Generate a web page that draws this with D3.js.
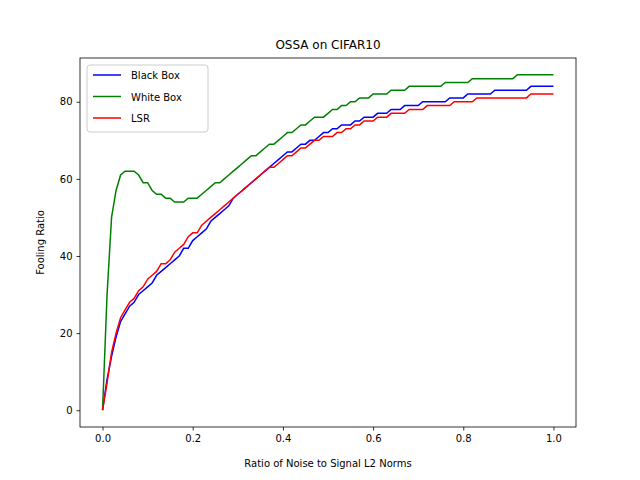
<!DOCTYPE html>
<html>
<head>
<meta charset="utf-8">
<script src="https://cdn.jsdelivr.net/npm/d3@7"></script>
<style>
body { margin: 0; background: #fff; }
text { font-family: "DejaVu Sans", sans-serif; }
</style>
</head>
<body>
<svg id="chart" width="640" height="480"></svg>
<script>
// noise ratio steps 0.00 .. 1.00 by 0.01
var ratios = d3.range(101).map(function(i) { return i / 100; });

var blackBox = [0,8,14,19,23,25,27,28,30,31,32,33,35,36,37,38,39,40,42,42,
  44,45,46,47,49,50,51,52,53,55,56,57,58,59,60,61,62,63,64,65,
  66,67,67,68,69,69,70,70,71,72,72,73,73,74,74,74,75,75,76,76,
  76,77,77,77,78,78,78,79,79,79,79,80,80,80,80,80,80,81,81,81,
  81,82,82,82,82,82,82,83,83,83,83,83,83,83,83,84,84,84,84,84,84];

var whiteBox = [0,30,50,57,61,62,62,62,61,59,59,57,56,56,55,55,54,54,54,55,
  55,55,56,57,58,59,59,60,61,62,63,64,65,66,66,67,68,69,69,70,
  71,72,72,73,74,74,75,76,76,76,77,78,78,79,79,80,80,81,81,81,
  82,82,82,82,83,83,83,83,84,84,84,84,84,84,84,84,85,85,85,85,
  85,85,86,86,86,86,86,86,86,86,86,86,87,87,87,87,87,87,87,87,87];

var lsr = [0,7,15,20,24,26,28,29,31,32,34,35,36,38,38,39,41,42,43,45,
  46,46,48,49,50,51,52,53,54,55,56,57,58,59,60,61,62,63,63,64,
  65,66,66,67,68,68,69,70,70,71,71,71,72,72,73,73,74,74,75,75,
  75,76,76,76,77,77,77,77,78,78,78,78,79,79,79,79,79,79,80,80,
  80,80,80,81,81,81,81,81,81,81,81,81,81,81,81,82,82,82,82,82,82];

var seriesNames = ["Black Box", "White Box", "LSR"];
var seriesColors = ["#0000ff", "#008000", "#ff0000"];
var seriesValues = [blackBox, whiteBox, lsr];

var xTicks = [0, 0.2, 0.4, 0.6, 0.8, 1.0];
var yTicks = [0, 20, 40, 60, 80];

var svg = d3.select("#chart");
var pLeft = 80, pRight = 576, pTop = 58, pBottom = 427;

var x = d3.scaleLinear().domain([-0.05, 1.05]).range([pLeft, pRight]);
var y = d3.scaleLinear().domain([-4.35, 91.35]).range([pBottom, pTop]);

var plot = svg.append("g");

var line = d3.line()
    .x(function(d, i) { return x(ratios[i]); })
    .y(function(d) { return y(d); });

seriesValues.forEach(function(vals, k) {
    plot.append("path")
        .attr("d", line(vals))
        .attr("fill", "none")
        .attr("stroke", seriesColors[k])
        .attr("stroke-width", 1.5);
});

// frame
svg.append("rect")
    .attr("x", pLeft).attr("y", pTop)
    .attr("width", pRight - pLeft).attr("height", pBottom - pTop)
    .attr("fill", "none").attr("stroke", "#000").attr("stroke-width", 0.8);

var xAxis = svg.append("g").attr("transform", "translate(0," + pBottom + ")")
    .call(d3.axisBottom(x).tickValues(xTicks).tickSize(3.5).tickPadding(4)
        .tickFormat(d3.format(".1f")));
var yAxis = svg.append("g").attr("transform", "translate(" + pLeft + ",0)")
    .call(d3.axisLeft(y).tickValues(yTicks).tickSize(3.5).tickPadding(4));
[xAxis, yAxis].forEach(function(a) {
    a.select(".domain").remove();
    a.selectAll("text").attr("font-size", 10).attr("font-family", "DejaVu Sans").attr("fill", "#000");
    a.selectAll("line").attr("stroke-width", 0.8);
});

svg.append("text").attr("x", (pLeft + pRight) / 2).attr("y", 49)
    .attr("text-anchor", "middle").attr("font-size", 12).text("OSSA on CIFAR10");
svg.append("text").attr("x", (pLeft + pRight) / 2).attr("y", 467)
    .attr("text-anchor", "middle").attr("font-size", 10).text("Ratio of Noise to Signal L2 Norms");
svg.append("text").attr("transform", "translate(44," + ((pTop + pBottom) / 2) + ") rotate(-90)")
    .attr("text-anchor", "middle").attr("font-size", 10).text("Fooling Ratio");

// legend
var lg = svg.append("g").attr("transform", "translate(87,65)");
lg.append("rect").attr("width", 121).attr("height", 67).attr("rx", 3)
    .attr("fill", "#fff").attr("fill-opacity", 0.8).attr("stroke", "#ccc");
seriesNames.forEach(function(name, k) {
    var yy = 10 + k * 21.5;
    lg.append("line").attr("x1", 6).attr("x2", 34).attr("y1", yy).attr("y2", yy)
        .attr("stroke", seriesColors[k]).attr("stroke-width", 1.5);
    lg.append("text").attr("x", 44).attr("y", yy + 4).attr("font-size", 10).text(name);
});
</script>
</body>
</html>
